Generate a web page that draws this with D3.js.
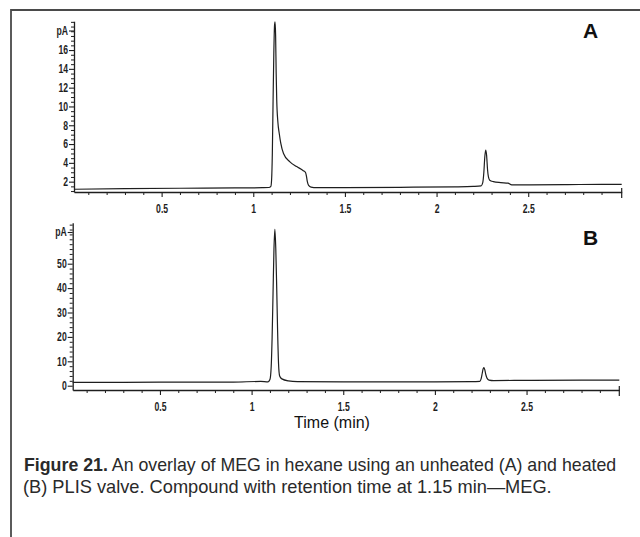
<!DOCTYPE html>
<html>
<head>
<meta charset="utf-8">
<script src="https://cdn.jsdelivr.net/npm/d3@7"></script>
<style>
  html, body { margin: 0; padding: 0; background: #fff; }
  svg { display: block; }
</style>
</head>
<body>
<script>
// Chromatogram traces: [time (min), signal (pA)]
const traceA = [
  [0.022, 1.19], [0.3, 1.25], [0.6, 1.3], [0.9, 1.33], [1.05, 1.36], [1.085, 1.38],
  [1.096, 1.5], [1.100, 2.2], [1.104, 5], [1.108, 10.5], [1.112, 15.5], [1.116, 18.6],
  [1.119, 19.0], [1.122, 17.5], [1.125, 13.5], [1.128, 10.7], [1.134, 8.4], [1.142, 7.1],
  [1.150, 6.1], [1.165, 5.0], [1.200, 4.1], [1.237, 3.6], [1.273, 3.17], [1.285, 2.97],
  [1.290, 2.6], [1.295, 2.0], [1.302, 1.6], [1.315, 1.42], [1.346, 1.36], [1.5, 1.37],
  [1.8, 1.4], [2.1, 1.45], [2.2, 1.5], [2.243, 1.56], [2.252, 1.9], [2.258, 3.0],
  [2.263, 4.6], [2.268, 5.37], [2.273, 4.8], [2.278, 3.3], [2.283, 2.5], [2.290, 2.15],
  [2.31, 2.0], [2.35, 1.9], [2.39, 1.84], [2.41, 1.66], [2.5, 1.66], [2.7, 1.68],
  [2.9, 1.72], [3.01, 1.72]
];
const traceB = [
  [0.024, 1.4], [0.3, 1.4], [0.6, 1.45], [0.9, 1.5], [1.05, 1.75], [1.09, 1.6],
  [1.100, 2.5], [1.107, 8], [1.112, 20], [1.117, 38], [1.122, 56], [1.127, 64.1],
  [1.132, 56], [1.137, 40], [1.142, 22], [1.147, 9], [1.153, 4], [1.165, 2.8],
  [1.2, 2.0], [1.25, 1.7], [1.5, 1.6], [2.0, 1.6], [2.2, 1.65], [2.245, 1.8],
  [2.252, 2.8], [2.258, 5], [2.263, 6.9], [2.267, 7.4], [2.272, 6.6], [2.278, 4.5],
  [2.285, 3.0], [2.295, 2.3], [2.32, 2.1], [2.5, 2.2], [2.8, 2.3], [3.006, 2.3]
];

// Axis ticks
const timeMajor = [0.5, 1, 1.5, 2, 2.5];
const timeMinor = d3.range(1, 31).map(d => d / 10).filter(d => !timeMajor.some(m => Math.abs(m - d) < 1e-6));
const yMajorA = [2, 4, 6, 8, 10, 12, 14, 16];
const yMajorB = [0, 10, 20, 30, 40, 50];

// Text
const panelLabels = ["A", "B"];
const unitLabel = "pA";
const xTitle = "Time (min)";
const captionBold = "Figure 21.";
const captionLine1 = " An overlay of MEG in hexane using an unheated (A) and heated";
const captionLine2 = "(B) PLIS valve. Compound with retention time at 1.15 min\u2014MEG.";

const W = 640, H = 537;
const ink = "#1e1e1e";
const tickFont = "'Liberation Sans',Arial,sans-serif";

const svg = d3.select("body").append("svg").attr("width", W).attr("height", H);
svg.append("rect").attr("width", W).attr("height", H).attr("fill", "#fff");

// frame (top and left rule)
svg.append("path").attr("d", "M11,537 V10 H640")
  .attr("fill", "none").attr("stroke", "#4a4a4a").attr("stroke-width", 1.8);

const panels = [
  {
    data: traceA, label: panelLabels[0],
    x: d3.scaleLinear().domain([0.022, 3.01]).range([74, 621.7]),
    y: d3.scaleLinear().domain([0.9, 19.07]).range([192, 21.2]),
    yMajor: yMajorA, yMinorStep: 0.5, labelY: 38
  },
  {
    data: traceB, label: panelLabels[1],
    x: d3.scaleLinear().domain([0.024, 3.006]).range([72.7, 619.3]),
    y: d3.scaleLinear().domain([-1.76, 66.8]).range([390, 222.7]),
    yMajor: yMajorB, yMinorStep: 2, labelY: 245
  }
];

// squeeze a text run horizontally to a narrow face
function compress(sel, k) {
  sel.each(function () {
    const w = this.getComputedTextLength();
    if (w > 0) d3.select(this).attr("textLength", w * k).attr("lengthAdjust", "spacingAndGlyphs");
  });
}

panels.forEach(p => {
  const g = svg.append("g");
  const [x0, x1] = p.x.range();
  const [yb, yt] = p.y.range();
  const [d0, d1] = p.y.domain();

  // minor ticks on y
  const yMinor = d3.range(Math.ceil(d0 / p.yMinorStep) * p.yMinorStep, d1, p.yMinorStep)
    .filter(v => !p.yMajor.includes(v));
  g.append("g").attr("transform", `translate(${x0},0)`)
    .call(d3.axisLeft(p.y).tickValues(yMinor).tickSize(3).tickFormat(""))
    .call(a => a.select(".domain").remove())
    .call(a => a.selectAll("line").attr("stroke", ink).attr("stroke-width", 1));

  // major ticks on y
  const ya = g.append("g").attr("transform", `translate(${x0},0)`)
    .call(d3.axisLeft(p.y).tickValues(p.yMajor).tickSizeInner(5).tickSizeOuter(0).tickPadding(1).tickFormat(d3.format("d")));
  ya.select(".domain").attr("stroke", ink).attr("stroke-width", 1.3);
  ya.selectAll("line").attr("stroke", ink).attr("stroke-width", 1.1);
  ya.selectAll("text").attr("font-family", tickFont).attr("font-size", 12)
    .attr("font-weight", "bold").attr("fill", ink).call(compress, 0.72);

  // unit label with its tick
  const uy = yt + 9.8;
  g.append("line").attr("x1", x0 - 5).attr("x2", x0).attr("y1", uy).attr("y2", uy)
    .attr("stroke", ink).attr("stroke-width", 1.1);
  g.append("text").attr("x", x0 - 6).attr("y", uy).attr("dy", "0.32em")
    .attr("text-anchor", "end").attr("font-family", tickFont).attr("font-size", 12)
    .attr("font-weight", "bold").attr("fill", ink).text(unitLabel).call(compress, 0.72);

  // x axis minor ticks
  g.append("g").attr("transform", `translate(0,${yb})`)
    .call(d3.axisBottom(p.x).tickValues(timeMinor.filter(t => t < 2.999)).tickSize(3).tickFormat(""))
    .call(a => a.select(".domain").remove())
    .call(a => a.selectAll("line").attr("stroke", ink).attr("stroke-width", 1));

  // x axis major ticks
  const xa = g.append("g").attr("transform", `translate(0,${yb})`)
    .call(d3.axisBottom(p.x).tickValues(timeMajor).tickSizeInner(5).tickSizeOuter(0).tickPadding(7).tickFormat(d3.format("")));
  xa.select(".domain").attr("stroke", ink).attr("stroke-width", 1.5);
  xa.selectAll("line").attr("stroke", ink).attr("stroke-width", 1.1);
  xa.selectAll("text").attr("font-family", tickFont).attr("font-size", 12)
    .attr("font-weight", "bold").attr("fill", ink).call(compress, 0.72);

  // end tick at the right edge of the time axis
  g.append("line").attr("x1", x1).attr("x2", x1).attr("y1", yb - 4).attr("y2", yb + 6)
    .attr("stroke", ink).attr("stroke-width", 1.2);

  // trace
  const line = d3.line().x(d => p.x(d[0])).y(d => p.y(d[1])).curve(d3.curveMonotoneX);
  g.append("path").datum(p.data).attr("d", line)
    .attr("fill", "none").attr("stroke", ink).attr("stroke-width", 1.2).attr("stroke-linejoin", "round");

  // panel letter
  g.append("text").attr("x", 583).attr("y", p.labelY)
    .attr("font-family", "'Liberation Sans',Arial,sans-serif").attr("font-weight", "bold")
    .attr("font-size", 21).attr("fill", "#111").text(p.label);
});

// axis title
svg.append("text").attr("x", 332).attr("y", 428).attr("text-anchor", "middle")
  .attr("font-family", "'Liberation Sans',Arial,sans-serif").attr("font-size", 16)
  .attr("fill", "#111").text(xTitle);

// caption: set at natural size, then narrowed with a horizontal scale to its column width
const capFont = "'Liberation Sans',Arial,sans-serif";
function captionLine(x, y, width, build) {
  const g = svg.append("g");
  const t = g.append("text").attr("x", 0).attr("y", 0)
    .attr("font-family", capFont).attr("font-size", 19).attr("fill", "#2a2a2a");
  build(t);
  const w = t.node().getComputedTextLength();
  g.attr("transform", `translate(${x},${y}) scale(${width / w},1)`);
}
captionLine(24, 471, 593, t => {
  t.append("tspan").attr("font-weight", "bold").text(captionBold);
  t.append("tspan").text(captionLine1);
});
captionLine(23, 493, 529, t => t.text(captionLine2));
</script>
</body>
</html>
